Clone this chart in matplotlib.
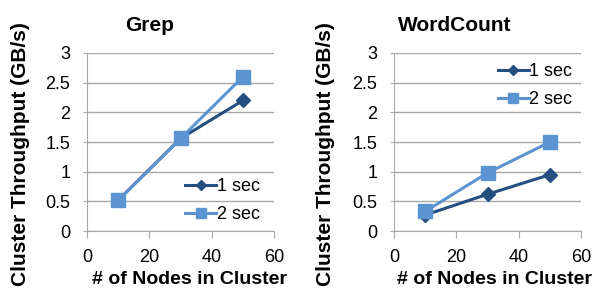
import matplotlib
matplotlib.use("Agg")
import matplotlib.pyplot as plt

plt.rcParams['font.family'] = ['Liberation Sans', 'DejaVu Sans']

nodes = [10, 30, 50]
grep_1sec = [0.52, 1.56, 2.20]
grep_2sec = [0.52, 1.56, 2.60]
wc_1sec = [0.27, 0.62, 0.95]
wc_2sec = [0.33, 0.98, 1.50]
titles = ["Grep", "WordCount"]
series_labels = ["1 sec", "2 sec"]
xticks = [0, 20, 40, 60]
yticks = [0, 0.5, 1, 1.5, 2, 2.5, 3]
ytick_labels = ["0", "0.5", "1", "1.5", "2", "2.5", "3"]

dark = "#254F7E"
light = "#5B94D0"
grey = "#A8A8A8"

fig = plt.figure(figsize=(5.96, 2.91), dpi=100)
ax1 = fig.add_axes([0.146, 0.206, 0.314, 0.612])
ax2 = fig.add_axes([0.661, 0.206, 0.314, 0.612])

data = [(grep_1sec, grep_2sec), (wc_1sec, wc_2sec)]
legend_anchors = [(0.525, 0.172), (0.555, 0.815)]
title_x = [0.332, 0.326]
xlabel_x = [0.548, 0.537]
ylabel_x = [-0.358, -0.364]

for i, ax in enumerate([ax1, ax2]):
    s1, s2 = data[i]
    ax.plot(nodes, s1, color=dark, lw=2.2, marker="D", ms=7, label=series_labels[0], zorder=3)
    ax.plot(nodes, s2, color=light, lw=2.2, marker="s", ms=10, label=series_labels[1], zorder=4)
    ax.set_xlim(0, 60)
    ax.set_ylim(0, 3)
    ax.set_xticks(xticks)
    ax.set_yticks(yticks)
    ax.set_yticklabels(ytick_labels)
    ax.yaxis.grid(True, color=grey, lw=1)
    ax.set_axisbelow(True)
    for sp in ["top", "right"]:
        ax.spines[sp].set_visible(False)
    for sp in ["left", "bottom"]:
        ax.spines[sp].set_color(grey)
    ax.tick_params(axis="x", direction="out", length=5, color=grey, labelsize=13, pad=8)
    ax.tick_params(axis="y", direction="inout", length=6, color=grey, labelsize=13, pad=9)
    ax.set_title(titles[i], fontsize=15, fontweight="bold", pad=16, x=title_x[i])
    ax.set_xlabel("# of Nodes in Cluster", fontsize=14, fontweight="bold")
    ax.xaxis.set_label_coords(xlabel_x[i], -0.27)
    ax.xaxis.label.set_va("center")
    ax.set_ylabel("Cluster Throughput (GB/s)", fontsize=15, fontweight="bold")
    ax.yaxis.set_label_coords(ylabel_x[i], 0.435)
    ax.yaxis.label.set_va("center")
    ax.legend(frameon=False, fontsize=13, handlelength=1.7, handletextpad=0.05,
              labelspacing=0.6, borderaxespad=0, borderpad=0,
              loc="center left", bbox_to_anchor=legend_anchors[i], markerscale=0.75)

fig.savefig("out.png", dpi=100)
